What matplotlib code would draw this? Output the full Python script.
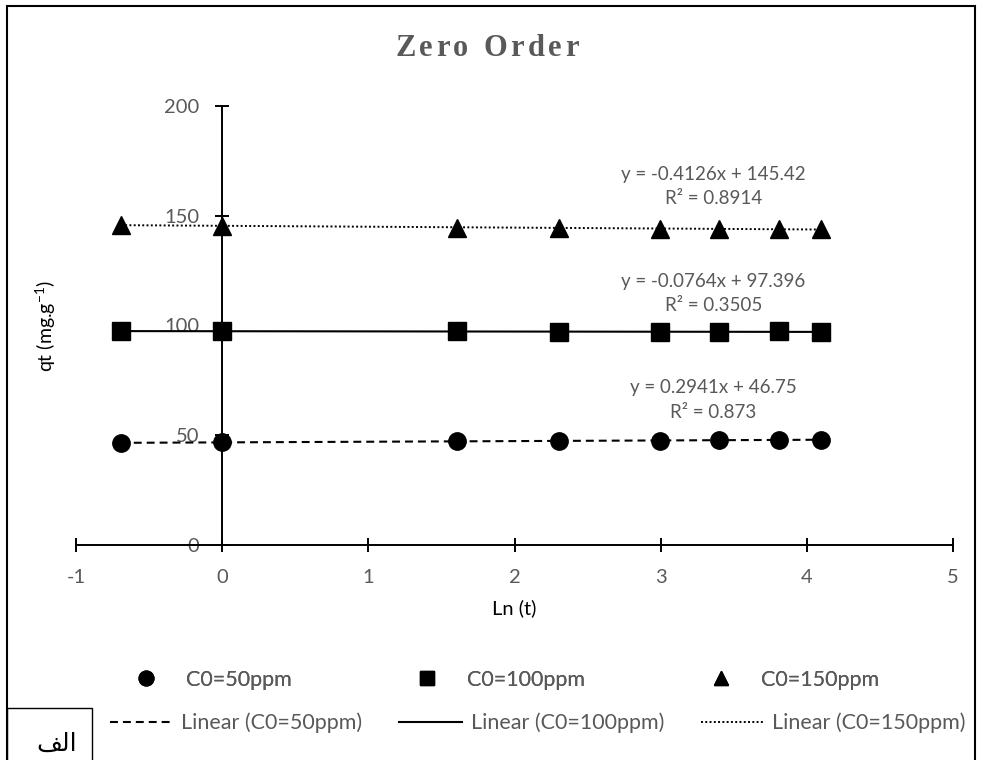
import numpy as np
import matplotlib
matplotlib.use("Agg")
import matplotlib.pyplot as plt
from matplotlib.patches import Rectangle
from matplotlib import font_manager
from matplotlib.font_manager import FontProperties
from matplotlib.ft2font import FT2Font

# ---- data -------------------------------------------------------------
ln_t = [-0.693, 0.0, 1.609, 2.303, 2.996, 3.401, 3.807, 4.094]
qt_50 = [46.4, 46.9, 47.3, 47.5, 47.5, 47.8, 47.9, 47.9]
qt_100 = [97.5, 97.3, 97.4, 97.1, 97.2, 97.0, 97.3, 97.0]
qt_150 = [145.9, 145.3, 144.6, 144.6, 144.1, 143.9, 143.9, 143.8]

series_names = ["C0=50ppm", "C0=100ppm", "C0=150ppm"]
slopes = [0.2941, -0.0764, -0.4126]
intercepts = [46.75, 97.396, 145.42]
r_squared = [0.873, 0.3505, 0.8914]

x_ticks = [-1, 0, 1, 2, 3, 4, 5]
y_ticks = [0, 50, 100, 150, 200]

# ---- styling ----------------------------------------------------------
BASE = "Lato"
GRAY = "#595959"
plt.rcParams["font.family"] = [BASE, "DejaVu Sans"]
plt.rcParams["mathtext.fontset"] = "custom"
plt.rcParams["mathtext.rm"] = BASE
plt.rcParams["mathtext.it"] = BASE

W, H, DPI = 982, 760, 100
fig = plt.figure(figsize=(W / DPI, H / DPI), dpi=DPI)

# axes box in pixels: x -1..5 -> 76..953, y 0..200 -> 545..106
ax_l, ax_r, ax_b, ax_t = 76, 953, 545, 106
ax = fig.add_axes([ax_l / W, 1 - ax_b / H, (ax_r - ax_l) / W, (ax_b - ax_t) / H])

markers = ["o", "s", "^"]
styles = [(0, (3.8, 2.4)), "-", (0, (1.0, 1.2))]
widths = [1.5, 1.5, 1.4]
values = [qt_50, qt_100, qt_150]

points, trends = [], []
for name, m, ls, lw, y, a, b in zip(series_names, markers, styles, widths,
                                    values, slopes, intercepts):
    pts, = ax.plot(ln_t, y, linestyle="none", marker=m, markersize=12.5,
                   color="black", label=name, zorder=4, clip_on=False)
    xs = np.array([min(ln_t), max(ln_t)])
    trend, = ax.plot(xs, a * xs + b, linestyle=ls, linewidth=lw,
                     color="black", label=f"Linear ({name})", zorder=3)
    points.append(pts)
    trends.append(trend)

# trend-line equations
eq_x = 3.36
eq_y = [66.1, 114.6, 163.3]
for a, b, r2, ey in zip(slopes, intercepts, r_squared, eq_y):
    sign = "+" if b >= 0 else "-"
    txt = f"y = {a:g}x {sign} {abs(b):g}\nR² = {r2:g}"
    ax.text(eq_x, ey, txt, ha="center", va="center", fontsize=13.5,
            color=GRAY, linespacing=1.55, zorder=5)

# axes through the origin with crossing ticks
ax.set_xlim(-1, 5)
ax.set_ylim(0, 200)
ax.set_xticks(x_ticks)
ax.set_yticks(y_ticks)
ax.set_xticklabels([str(v) for v in x_ticks])
ax.set_yticklabels([str(v) for v in y_ticks])
for s in ("top", "right"):
    ax.spines[s].set_visible(False)
ax.spines["left"].set_position(("data", 0))
ax.spines["bottom"].set_position(("data", 0))
for s in ("left", "bottom"):
    ax.spines[s].set_linewidth(1.4)
    ax.spines[s].set_zorder(2)
ax.tick_params(axis="both", direction="inout", length=10.5, width=1.4,
               colors="black", labelcolor=GRAY, labelsize=14.5)
ax.tick_params(axis="x", pad=12)
ax.tick_params(axis="y", pad=11)
ax.patch.set_alpha(0)

ax.set_xlabel("Ln (t)", fontsize=14.5, color="black")
ax.xaxis.set_label_coords((514 - ax_l) / (ax_r - ax_l), -(608 - ax_b) / (ax_b - ax_t))
ax.xaxis.label.set_va("center")
fig.text(46 / W, 1 - 326 / H, r"qt (mg.g$^{-1}$)", rotation=90, ha="center",
         va="center", fontsize=14, color="black")

# legend: one row for the markers, one row for the trend lines
leg_kw = dict(frameon=False, fontsize=15.5, labelcolor=GRAY, borderpad=0,
              borderaxespad=0, numpoints=1, loc="center left")
leg1 = fig.legend(handles=points, ncol=3, bbox_to_anchor=(124 / W, 1 - 680 / H),
                  handlelength=2.0, handletextpad=0.86, columnspacing=5.3,
                  markerscale=0.85, **leg_kw)
fig.add_artist(leg1)
fig.legend(handles=trends, ncol=3, bbox_to_anchor=(110 / W, 1 - 723 / H),
           handlelength=2.9, handletextpad=0.42, columnspacing=1.7, **leg_kw)

# title with letter spacing
title = "Zero Order"
tsize = 22
tprops = FontProperties(family="Liberation Serif", weight="bold", size=tsize)
font = FT2Font(font_manager.findfont(tprops))
font.set_size(tsize, DPI)
extra = 3.5
adv = [font.load_char(ord(c)).linearHoriAdvance / 65536 + extra for c in title]
total = sum(adv) - extra
x0 = 487 - total / 2
for c, w in zip(title, adv):
    fig.text(x0 / W, 1 - 56 / H, c, ha="left", va="baseline",
             fontproperties=tprops, color=GRAY)
    x0 += w

# outer chart frame
fig.add_artist(Rectangle((7 / W, -0.01), (975 - 7) / W, (1 - 6 / H) + 0.01,
                         transform=fig.transFigure, fill=False,
                         edgecolor="black", linewidth=1.5))
# caption box at the bottom-left corner ("الف", glyphs in visual order)
fig.add_artist(Rectangle((7 / W, -0.01), (92 - 7) / W, (760 - 708) / H + 0.01,
                         transform=fig.transFigure, fill=False,
                         edgecolor="black", linewidth=1.0))
fig.text(57 / W, 1 - 744 / H, "\uFED2\uFEDF\uFE8D", ha="center", va="center",
         fontsize=18, color="black", family=["DejaVu Sans"])

fig.savefig("out.png", dpi=DPI)
